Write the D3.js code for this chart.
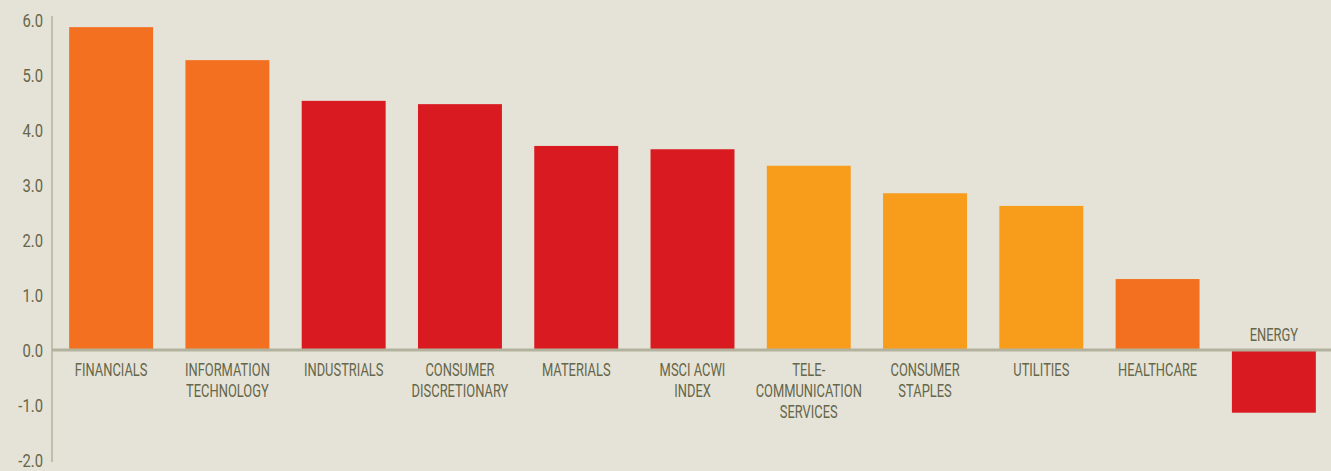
<!DOCTYPE html>
<html>
<head>
<meta charset="utf-8">
<script src="https://cdnjs.cloudflare.com/ajax/libs/d3/7.8.5/d3.min.js"></script>
<style>
  html, body { margin: 0; padding: 0; background: #e5e3d8; }
  svg { display: block; }
  text { font-family: Roboto, "DejaVu Sans", sans-serif; fill: #66664a; }
</style>
</head>
<body>
<div id="chart"></div>
<script>
// sector names, one array entry per line of the label
const categories = [
  ["FINANCIALS"],
  ["INFORMATION", "TECHNOLOGY"],
  ["INDUSTRIALS"],
  ["CONSUMER", "DISCRETIONARY"],
  ["MATERIALS"],
  ["MSCI ACWI", "INDEX"],
  ["TELE-", "COMMUNICATION", "SERVICES"],
  ["CONSUMER", "STAPLES"],
  ["UTILITIES"],
  ["HEALTHCARE"],
  ["ENERGY"]
];
// bar values
const values = [5.87, 5.27, 4.53, 4.47, 3.71, 3.65, 3.35, 2.85, 2.62, 1.29, -1.14];
// colour group of each bar
const groups = ["orange", "orange", "red", "red", "red", "red", "amber", "amber", "amber", "orange", "red"];
// y axis ticks
const yTicks = [-2, -1, 0, 1, 2, 3, 4, 5, 6];

const width = 1331, height = 471;
const colors = { orange: "#f37021", red: "#d91a21", amber: "#f89c1c" };
// the original font is a narrow one, so squeeze the text sideways
const squeeze = 0.68;

const svg = d3.select("#chart").append("svg")
    .attr("width", width)
    .attr("height", height);

// y scale: 0 sits at 350, about 55px per unit
const y = d3.scaleLinear()
    .domain([-2, 6])
    .range([460, 20]);

// x bands, one per sector
const x = d3.scaleBand()
    .domain(d3.range(values.length))
    .range([53, 1332])
    .paddingInner(0.278)
    .paddingOuter(0.139);

// bars
svg.selectAll(".bar")
    .data(values)
    .enter().append("rect")
    .attr("class", "bar")
    .attr("x", (d, i) => x(i))
    .attr("width", x.bandwidth())
    .attr("y", d => y(Math.max(0, d)))
    .attr("height", d => Math.abs(y(d) - y(0)))
    .attr("fill", (d, i) => colors[groups[i]]);

// vertical axis line
svg.append("line")
    .attr("x1", 52).attr("x2", 52)
    .attr("y1", 16).attr("y2", y(-2) + 2)
    .attr("stroke", "#b3b29c")
    .attr("stroke-width", 1.5);

// zero line
svg.append("line")
    .attr("x1", 52).attr("x2", width)
    .attr("y1", y(0)).attr("y2", y(0))
    .attr("stroke", "#b3b29c")
    .attr("stroke-width", 3);

// y tick labels
svg.selectAll(".ytick")
    .data(yTicks)
    .enter().append("text")
    .attr("class", "ytick")
    .attr("transform", d => `translate(43,${y(d)}) scale(0.78,1)`)
    .attr("dy", "0.36em")
    .attr("text-anchor", "end")
    .style("font-size", "19px")
    .text(d => d.toFixed(1));

// category labels, under the bar, or above it for negative bars
const lineHeight = 21;
const labels = svg.selectAll(".label")
    .data(categories)
    .enter().append("text")
    .attr("class", "label")
    .attr("text-anchor", "middle")
    .style("font-size", "19px")
    .attr("transform", (d, i) => {
        let cx = x(i) + x.bandwidth() / 2;
        let base = values[i] < 0 ? y(0) - 9 : y(0) + 26;
        return `translate(${cx},${base}) scale(${squeeze},1)`;
    });

labels.selectAll("tspan")
    .data(d => d)
    .enter().append("tspan")
    .attr("x", 0)
    .attr("y", (d, j) => j * lineHeight)
    .text(d => d);
</script>
</body>
</html>
